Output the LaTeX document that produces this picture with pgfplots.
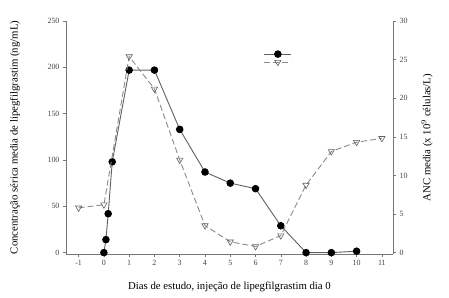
\documentclass[border=0pt]{standalone}
\usepackage{fontspec}
\setmainfont{Liberation Serif}
\usepackage{pgfplots}
\pgfplotsset{compat=1.18}
\definecolor{axgray}{HTML}{777777}
\definecolor{solidgray}{HTML}{606060}
\definecolor{dashgray}{HTML}{8A8A8A}
\definecolor{txtgray}{HTML}{444444}
\begin{document}
\begin{tikzpicture}
\pgfplotsset{
  common/.style={
    scale only axis, width=327bp, height=233bp,
    xmin=-1.5, xmax=11.44,
    axis line style={axgray, line width=0.8pt},
    tick style={axgray, line width=0.6pt},
    tick align=outside, major tick length=3bp,
    ticklabel style={font=\fontsize{8}{9}\selectfont, text=txtgray},
    label style={font=\fontsize{10.8}{12}\selectfont},
    /pgf/number format/assume math mode=true,
  }
}
\begin{axis}[common, name=ax,
  ymin=-1.5, ymax=250,
  axis x line*=bottom, axis y line*=left,
  xtick={-1,0,...,11},
  ytick={0,50,100,150,200,250},
  xlabel={Dias de estudo, injeção de lipegfilgrastim dia 0},
  ylabel={Concentração sérica media de lipegfilgrastim (ng/mL)},
  xlabel style={at={(axis description cs:0.5,-0.142)}, anchor=center},
  ylabel style={at={(axis description cs:-0.156,0.5)}, anchor=center, rotate=0},
]
\addplot[solidgray, line width=0.9pt, mark=*, mark size=3.3bp, mark options={fill=black, draw=black, solid}]
coordinates {(0,0)(0.08,14)(0.17,42)(0.33,98)(1,197)(2,197)(3,133)(4,87)(5,75)(6,69)(7,29)(8,0)(9,0)(10,1.5)};
\end{axis}
\begin{axis}[common,
  ymin=-0.18, ymax=30,
  axis x line=none, axis y line*=right,
  ytick={0,5,10,15,20,25,30},
  ylabel={ANC media (x 10$^9$ células/L)},
  ylabel style={at={(axis description cs:1.104,0.5)}, anchor=center},
  legend style={draw=none, fill=none, at={(axis description cs:0.654,0.84)}, anchor=center,
    row sep=2bp, inner sep=0pt, font=\fontsize{1}{1}\selectfont},
  legend cell align=left,
  legend image code/.code={\draw[mark repeat=2, mark phase=2] plot coordinates {(0bp,0bp)(13.5bp,0bp)(27bp,0bp)};},
]
\addlegendimage{solidgray, line width=0.9pt, mark=*, mark size=3.3bp, mark options={fill=black, draw=black, solid}}
\addlegendentry{}
\addplot[dashgray, line width=0.9pt, dash pattern=on 6bp off 3bp, mark=triangle, mark size=3.6bp, mark options={rotate=180, fill=white, draw=solidgray, solid, line width=0.6pt}]
coordinates {(-1,5.8)(0,6.2)(1,25.4)(2,21.2)(3,12.0)(4,3.5)(5,1.4)(6,0.8)(7,2.2)(8,8.75)(9,13.1)(10,14.3)(11,14.8)};
\addlegendentry{}
\end{axis}
\pgfresetboundingbox
\path[use as bounding box] ([xshift=-66bp,yshift=-44bp]ax.south west) rectangle ([xshift=56bp,yshift=21bp]ax.north east);
\end{tikzpicture}
\end{document}
